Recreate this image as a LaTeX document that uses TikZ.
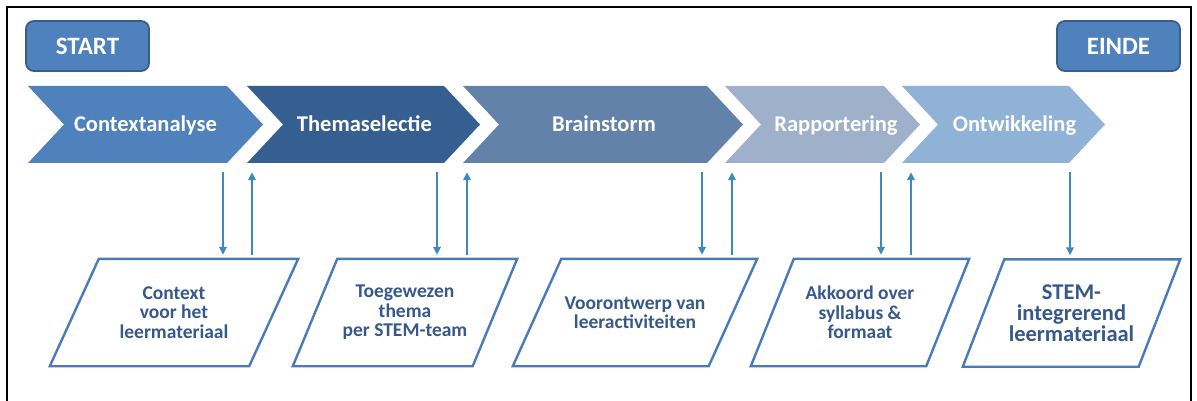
\documentclass[tikz,border=0pt]{standalone}
\usepackage{fontspec}
\setmainfont{Carlito}
\usetikzlibrary{arrows.meta}

\definecolor{chA}{RGB}{79,129,189}
\definecolor{chB}{RGB}{54,95,145}
\definecolor{chC}{RGB}{99,130,170}
\definecolor{chD}{RGB}{158,176,202}
\definecolor{chE}{RGB}{145,178,215}
\definecolor{capfill}{RGB}{79,129,189}
\definecolor{capline}{RGB}{56,93,138}
\definecolor{paraline}{RGB}{74,122,186}
\definecolor{paratext}{RGB}{54,88,138}
\definecolor{linkblue}{RGB}{64,138,186}

\tikzset{
  % process step drawn as a chevron inside its node box
  chevron/.style={rectangle, inner sep=0pt, minimum height=77pt,
    path picture={\fill[#1]
      (path picture bounding box.north west)
      -- ([xshift=-36pt]path picture bounding box.north east)
      -- (path picture bounding box.east)
      -- ([xshift=-36pt]path picture bounding box.south east)
      -- (path picture bounding box.south west)
      -- ([xshift=36pt]path picture bounding box.west) -- cycle;}},
  steplabel/.style={anchor=base, inner sep=0pt, text=white,
    font=\bfseries\fontsize{22.5}{24}\selectfont},
  capbox/.style={rectangle, rounded corners=8pt, fill=capfill, draw=capline,
    line width=1.8pt, minimum width=123pt, minimum height=50pt, text=white,
    font=\bfseries\fontsize{25}{27}\selectfont},
  outcome/.style={rectangle, inner sep=0pt, minimum height=107pt,
    align=center, text=paratext, font=\bfseries\fontsize{19.5}{19.5}\selectfont},
  outline/.style={draw=paraline, line width=2.4pt, line join=miter},
  link/.style={draw=linkblue, line width=1.8pt,
    -{Triangle[length=8pt,width=7.5pt]}, shorten <=4pt, shorten >=9pt},
  linkdown/.style={draw=linkblue, line width=1.8pt,
    -{Triangle[length=8pt,width=7.5pt]}, shorten <=9pt, shorten >=4pt},
}

\begin{document}
\begin{tikzpicture}[x=1pt, y=-1pt]
\useasboundingbox (0,0) rectangle (1197,401);
\clip (0,0) rectangle (1197,401);

% frame
\draw[black, line width=1.8pt] (7,410) -- (7,7) -- (1191,7) -- (1191,410);

% start and end markers
\node[capbox] (start) at (87.5,46) {START};
\node[capbox] (einde) at (1118.5,46) {EINDE};

% process chevrons
\node[chevron=chA, minimum width=235pt] (ch1) at (145.5,124.5) {};
\node[chevron=chB, minimum width=233pt] (ch2) at (363.5,124.5) {};
\node[chevron=chC, minimum width=280pt] (ch3) at (603,124.5) {};
\node[chevron=chD, minimum width=195pt] (ch4) at (822.5,124.5) {};
\node[chevron=chE, minimum width=203pt] (ch5) at (1003.5,124.5) {};

\node[steplabel] (t1) at (145.5,131.5) {Contextanalyse};
\node[steplabel] (t2) at (364.5,131.5) {Themaselectie};
\node[steplabel] (t3) at (604,131.5) {Brainstorm};
\node[steplabel] (t4) at (836,131.5) {Rapportering};
\node[steplabel] (t5) at (1014.5,131.5) {Ontwikkeling};

% outcomes
\node[outcome, minimum width=248pt] (p1) at (174,312.5) {Context\\voor het\\leermateriaal};
\node[outcome, minimum width=224pt] (p2) at (405,312.5) {Toegewezen\\thema\\per STEM-team};
\node[outcome, minimum width=244pt] (p3) at (635,312.5) {Voorontwerp van\\leeractiviteiten};
\node[outcome, minimum width=218pt] (p4) at (860,312.5) {Akkoord over\\syllabus \&\\formaat};
\node[outcome, minimum width=217pt, font=\bfseries\fontsize{22.5}{21}\selectfont]
  (p5) at (1071.5,313) {STEM-\\integrerend\\leermateriaal};

\foreach \n/\s in {p1/49, p2/44.5, p3/48.5, p4/43, p5/41.5}
  \draw[outline] ([xshift=\s pt]\n.north west) -- (\n.north east)
    -- ([xshift=-\s pt]\n.south east) -- (\n.south west) -- cycle;

% connector columns
\coordinate (d1) at (223,0);  \coordinate (u1) at (252,0);
\coordinate (d2) at (437,0);  \coordinate (u2) at (467,0);
\coordinate (d3) at (702,0);  \coordinate (u3) at (732,0);
\coordinate (d4) at (881,0);  \coordinate (u4) at (911,0);
\coordinate (d5) at (1070,0);

% step -> outcome
\draw[linkdown] (ch1.south -| d1) -- (p1.north -| d1);
\draw[linkdown] (ch2.south -| d2) -- (p2.north -| d2);
\draw[linkdown] (ch3.south -| d3) -- (p3.north -| d3);
\draw[linkdown] (ch4.south -| d4) -- (p4.north -| d4);
\draw[linkdown] (ch5.south -| d5) -- (p5.north -| d5);

% outcome -> next step
\draw[link] (p1.north -| u1) -- (ch2.south -| u1);
\draw[link] (p2.north -| u2) -- (ch3.south -| u2);
\draw[link] (p3.north -| u3) -- (ch4.south -| u3);
\draw[link] (p4.north -| u4) -- (ch5.south -| u4);
\end{tikzpicture}
\end{document}
